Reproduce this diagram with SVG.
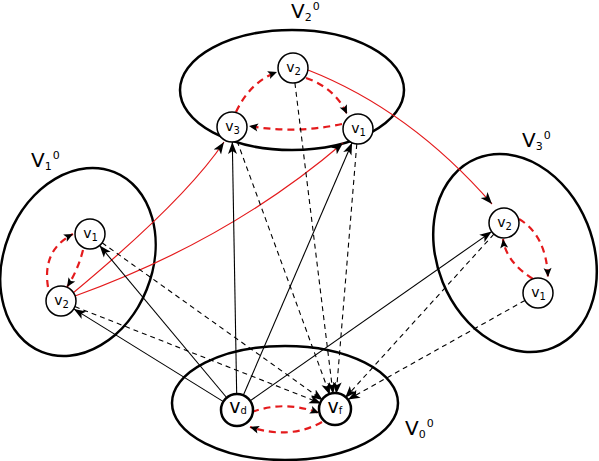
<svg xmlns="http://www.w3.org/2000/svg" width="599" height="461" viewBox="0 0 599 461">
<style>
.cl{fill:none;stroke:#000;stroke-width:2.5}
.nd{fill:#fff;stroke:#000;stroke-width:1.5}
.nb{fill:#fff;stroke:#000;stroke-width:2.5}
.k{fill:none;stroke:#000;stroke-width:1.1;marker-end:url(#ah)}
.kd{fill:none;stroke:#000;stroke-width:1.1;stroke-dasharray:5,4;marker-end:url(#ah)}
.r{fill:none;stroke:#e41a1c;stroke-width:1.2;marker-end:url(#ah)}
.rd{fill:none;stroke:#e41a1c;stroke-width:2.2;stroke-dasharray:7,5;marker-end:url(#as)}
text{font-family:"DejaVu Sans",sans-serif;fill:#000}
.lb{font-size:20px}
.ls{font-size:11px}
.nt{font-size:14px}
.ns{font-size:10px}
.bt{font-size:19px}
</style>
<defs>
<marker id="ah" viewBox="-12 -6 13 12" markerWidth="13" markerHeight="12" refX="0" refY="0" orient="auto" markerUnits="userSpaceOnUse"><path d="M0,0 L-12,-4.5 L-9,0 L-12,4.5 z" fill="#000"/></marker>
<marker id="as" viewBox="-10 -5 11 10" markerWidth="11" markerHeight="10" refX="0" refY="0" orient="auto" markerUnits="userSpaceOnUse"><path d="M0,0 L-9,-4 L-7,0 L-9,4 z" fill="#000"/></marker>
</defs>

<g id="cluster-V2"><ellipse class="cl" cx="292" cy="90" rx="112" ry="60"/><text class="lb" x="291" y="18">V<tspan class="ls" dy="2.5">2</tspan><tspan class="ls" dy="-11" dx="1">0</tspan></text></g>
<g id="cluster-V1"><ellipse class="cl" cx="78" cy="262" rx="74" ry="97" transform="rotate(22 78 262)"/><text class="lb" x="31" y="167">V<tspan class="ls" dy="2.5">1</tspan><tspan class="ls" dy="-11" dx="1">0</tspan></text></g>
<g id="cluster-V3"><ellipse class="cl" cx="515" cy="253" rx="78" ry="102" transform="rotate(-22 515 253)"/><text class="lb" x="522" y="147">V<tspan class="ls" dy="2.5">3</tspan><tspan class="ls" dy="-11" dx="1">0</tspan></text></g>
<g id="cluster-V0"><ellipse class="cl" cx="285" cy="403" rx="113" ry="57"/><text class="lb" x="405" y="435">V<tspan class="ls" dy="2.5">0</tspan><tspan class="ls" dy="-11" dx="1">0</tspan></text></g>

<g id="connectors">
<path class="r" d="M308,70 Q410,110 492,204"/>
<path class="r" d="M73,293 Q185,200 224,142"/>
<path class="r" d="M75,296 Q230,240 343,143"/>
<path class="rd" d="M236,112 Q250,82 277,72"/>
<path class="rd" d="M306,78 Q335,88 347,114"/>
<path class="rd" d="M342,124 Q296,134 249,126"/>
<path class="rd" d="M48,287 Q42,250 73,234"/>
<path class="rd" d="M83,250 Q78,270 67,287"/>
<path class="rd" d="M519,219 Q546,235 548,277"/>
<path class="rd" d="M533,279 Q506,262 503,239"/>
<path class="rd" d="M252,412 Q285,400 319,413"/>
<path class="rd" d="M322,422 Q290,440 250,427"/>
<path class="k" d="M227.4,398.5 L99.6,245.5"/>
<path class="k" d="M224.2,402.1 L73.8,308.9"/>
<path class="k" d="M236.7,395 L232.3,142"/>
<path class="k" d="M242.9,396.2 L352.1,142.8"/>
<path class="k" d="M249.3,401.4 L491.7,231.6"/>
<path class="kd" d="M102.1,242.8 L322.9,400.2"/>
<path class="kd" d="M74.9,306.6 L321.1,403.4"/>
<path class="kd" d="M237.1,141.1 L329.9,394.9"/>
<path class="kd" d="M294.9,82.9 L333.1,394.1"/>
<path class="kd" d="M356.8,144 L336.2,394"/>
<path class="kd" d="M493.9,234.1 L345.1,397.9"/>
<path class="kd" d="M525,300.4 L348,399.6"/>
</g>

<g id="v2-top"><circle class="nd" cx="293" cy="68" r="15"/><text class="nt" x="293.5" y="72" text-anchor="middle">v<tspan class="ns" dy="3">2</tspan></text></g>
<g id="v3-top"><circle class="nd" cx="232" cy="127" r="15"/><text class="nt" x="232.5" y="131" text-anchor="middle">v<tspan class="ns" dy="3">3</tspan></text></g>
<g id="v1-top"><circle class="nd" cx="358" cy="129" r="15"/><text class="nt" x="358.5" y="133" text-anchor="middle">v<tspan class="ns" dy="3">1</tspan></text></g>
<g id="v1-left"><circle class="nd" cx="90" cy="234" r="15"/><text class="nt" x="90.5" y="238" text-anchor="middle">v<tspan class="ns" dy="3">1</tspan></text></g>
<g id="v2-left"><circle class="nd" cx="61" cy="301" r="15"/><text class="nt" x="61.5" y="305" text-anchor="middle">v<tspan class="ns" dy="3">2</tspan></text></g>
<g id="v2-right"><circle class="nd" cx="504" cy="223" r="15"/><text class="nt" x="504.5" y="227" text-anchor="middle">v<tspan class="ns" dy="3">2</tspan></text></g>
<g id="v1-right"><circle class="nd" cx="538" cy="293" r="15"/><text class="nt" x="538.5" y="297" text-anchor="middle">v<tspan class="ns" dy="3">1</tspan></text></g>
<g id="vd"><circle class="nb" cx="237" cy="410" r="16"/><text class="bt" x="238" y="413" text-anchor="middle">v<tspan class="ns" dy="1">d</tspan></text></g>
<g id="vf"><circle class="nb" cx="335" cy="409" r="16"/><text class="bt" x="335" y="413" text-anchor="middle">v<tspan class="ns" dy="1">f</tspan></text></g>
</svg>
